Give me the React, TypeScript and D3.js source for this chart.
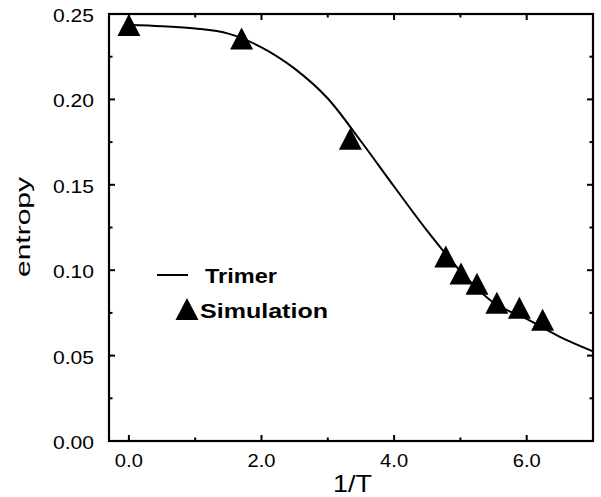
import React from "react";
import * as d3 from "d3";

const curveX = [0, 0.5, 1.0, 1.5, 2.0, 2.5, 3.0, 3.5, 4.0, 4.5, 5.0, 5.5, 6.0, 6.5, 7.0];
const curveY = [0.2435, 0.2428, 0.2415, 0.2385, 0.2305, 0.218, 0.2005, 0.1755, 0.149, 0.123, 0.0995, 0.081, 0.0715, 0.061, 0.0525];

const simX = [0.0, 1.7, 3.34, 4.78, 5.01, 5.25, 5.55, 5.89, 6.24];
const simY = [0.2436, 0.2357, 0.177, 0.108, 0.098, 0.092, 0.081, 0.078, 0.071];

const xMajor = [0, 2, 4, 6];
const xMinor = [1, 3, 5];
const xLabels = ["0.0", "2.0", "4.0", "6.0"];
const yMajor = [0, 0.05, 0.1, 0.15, 0.2, 0.25];
const yMinor = [0.025, 0.075, 0.125, 0.175, 0.225];
const yLabels = ["0.00", "0.05", "0.10", "0.15", "0.20", "0.25"];

const W = 601, H = 497;
const L = 109, R = 593, T = 14, B = 441;
const font = "Liberation Sans, Arial, Helvetica, sans-serif";

function tri(cx: number, cy: number, w = 23, h = 22) {
  return `M${cx},${cy - h / 2}L${cx + w / 2},${cy + h / 2}L${cx - w / 2},${cy + h / 2}Z`;
}

export default function App() {
  const x = d3.scaleLinear().domain([-0.3, 7.0]).range([L, R]);
  const y = d3.scaleLinear().domain([0, 0.25]).range([B, T]);
  const line = d3
    .line<number>()
    .x((_, i) => x(curveX[i]))
    .y((d) => y(d))
    .curve(d3.curveMonotoneX);
  const major = 6, minor = 3.5;
  return (
    <svg width={W} height={H} style={{ position: "absolute", left: 0, top: 0, background: "#fff" }}>
      <rect x={0} y={0} width={W} height={H} fill="#fff" />
      <path d={line(curveY) || ""} fill="none" stroke="#000" strokeWidth={2} />
      {simX.map((v, i) => (
        <path key={i} d={tri(x(v), y(simY[i]))} fill="#000" />
      ))}
      <rect x={L} y={T} width={R - L} height={B - T} fill="none" stroke="#000" strokeWidth={2.2} />
      {xMajor.map((v) => (
        <g key={"xm" + v}>
          <line x1={x(v)} x2={x(v)} y1={B} y2={B - major} stroke="#000" strokeWidth={2} />
          <line x1={x(v)} x2={x(v)} y1={T} y2={T + major} stroke="#000" strokeWidth={2} />
        </g>
      ))}
      {xMinor.map((v) => (
        <g key={"xn" + v}>
          <line x1={x(v)} x2={x(v)} y1={B} y2={B - minor} stroke="#000" strokeWidth={2} />
          <line x1={x(v)} x2={x(v)} y1={T} y2={T + minor} stroke="#000" strokeWidth={2} />
        </g>
      ))}
      {yMajor.map((v) => (
        <g key={"ym" + v}>
          <line x1={L} x2={L + major} y1={y(v)} y2={y(v)} stroke="#000" strokeWidth={2} />
          <line x1={R} x2={R - major} y1={y(v)} y2={y(v)} stroke="#000" strokeWidth={2} />
        </g>
      ))}
      {yMinor.map((v) => (
        <g key={"yn" + v}>
          <line x1={L} x2={L + minor} y1={y(v)} y2={y(v)} stroke="#000" strokeWidth={2} />
          <line x1={R} x2={R - minor} y1={y(v)} y2={y(v)} stroke="#000" strokeWidth={2} />
        </g>
      ))}
      {xMajor.map((v, i) => (
        <text
          key={"xl" + v}
          x={x(v) - 14}
          y={467}
          fontFamily={font}
          fontSize={18}
          textLength={28}
          lengthAdjust="spacingAndGlyphs"
        >
          {xLabels[i]}
        </text>
      ))}
      {yMajor.map((v, i) => (
        <text
          key={"yl" + v}
          x={53}
          y={y(v) + 8}
          fontFamily={font}
          fontSize={18}
          textLength={41}
          lengthAdjust="spacingAndGlyphs"
        >
          {yLabels[i]}
        </text>
      ))}
      <text x={333} y={492} fontFamily={font} fontSize={24} textLength={39} lengthAdjust="spacingAndGlyphs">
        1/T
      </text>
      <text
        transform={`translate(30,277) rotate(-90)`}
        fontFamily={font}
        fontSize={21}
        textLength={100}
        lengthAdjust="spacingAndGlyphs"
      >
        entropy
      </text>
      <line x1={157} x2={188} y1={275} y2={275} stroke="#000" strokeWidth={2} />
      <text x={205} y={283} fontFamily={font} fontSize={20} fontWeight="bold" textLength={72} lengthAdjust="spacingAndGlyphs">
        Trimer
      </text>
      <path d={tri(187, 309)} fill="#000" />
      <text x={200} y={318} fontFamily={font} fontSize={21} fontWeight="bold" textLength={128} lengthAdjust="spacingAndGlyphs">
        Simulation
      </text>
    </svg>
  );
}
